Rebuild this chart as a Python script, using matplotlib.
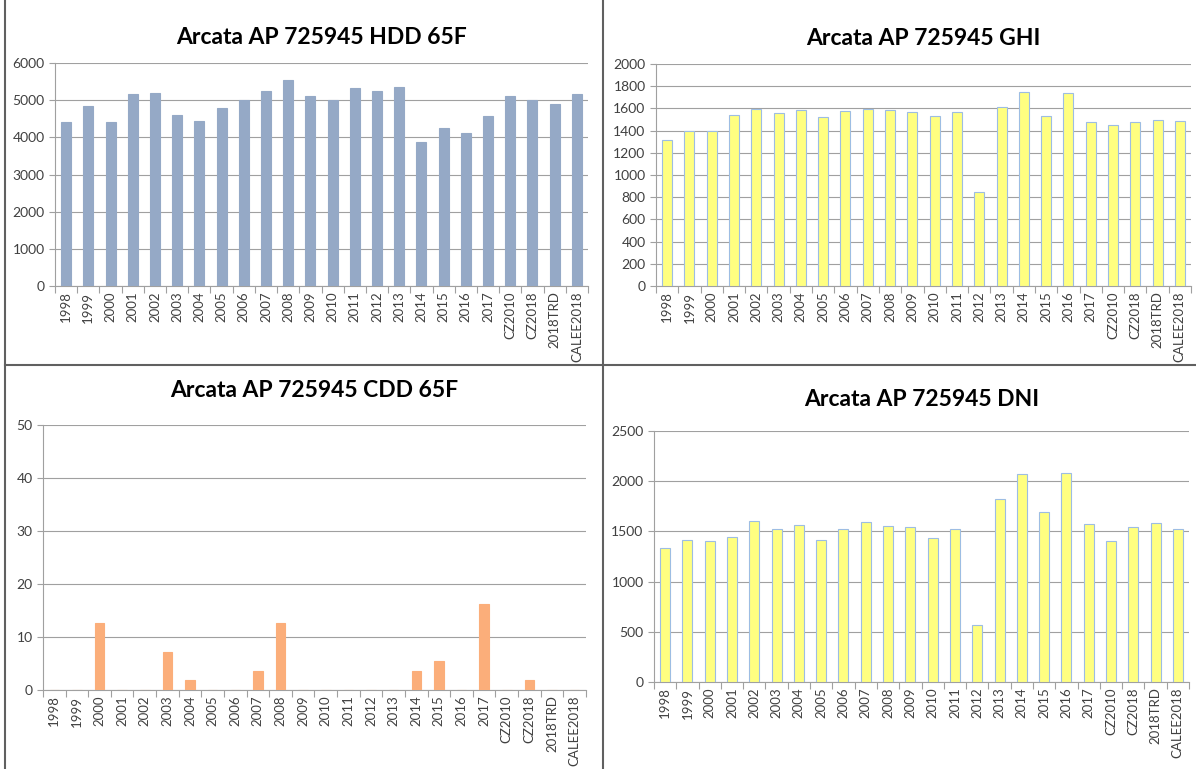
import matplotlib
matplotlib.use("Agg")
import matplotlib.pyplot as plt
from matplotlib.lines import Line2D

plt.rcParams['font.family'] = ['Lato', 'DejaVu Sans']

cats = ['1998', '1999', '2000', '2001', '2002', '2003', '2004', '2005', '2006',
        '2007', '2008', '2009', '2010', '2011', '2012', '2013', '2014', '2015',
        '2016', '2017', 'CZ2010', 'CZ2018', '2018TRD', 'CALEE2018']

hdd = [4400, 4840, 4400, 5160, 5190, 4590, 4450, 4790, 5000, 5240, 5530, 5100,
       5000, 5330, 5240, 5350, 3880, 4250, 4110, 4570, 5120, 5000, 4910, 5170]
ghi = [1314, 1395, 1392, 1540, 1594, 1558, 1582, 1519, 1573, 1594, 1582, 1567,
       1531, 1564, 851, 1615, 1744, 1531, 1738, 1474, 1450, 1477, 1498, 1486]
cdd = [0, 0, 12.6, 0, 0, 7.2, 1.8, 0, 0, 3.6, 12.6, 0,
       0, 0, 0, 0, 3.6, 5.4, 0, 16.2, 0, 1.8, 0, 0]
dni = [1331, 1414, 1408, 1448, 1607, 1524, 1564, 1418, 1527, 1597, 1557, 1544,
       1434, 1524, 568, 1826, 2075, 1690, 2085, 1574, 1408, 1544, 1580, 1524]

W, H = 1196, 769
fig = plt.figure(figsize=(W / 100, H / 100), dpi=100)


def px_axes(x0, y0, x1, y1):
    return fig.add_axes([x0 / W, 1 - y1 / H, (x1 - x0) / W, (y1 - y0) / H])


def panel(ax, vals, title, ymax, step, color, edge, width, tpad):
    x = range(len(cats))
    ax.bar(x, vals, width=width, color=color, edgecolor=edge, linewidth=0.8, zorder=3)
    ax.set_xlim(-0.5, len(cats) - 0.5)
    ax.set_ylim(0, ymax)
    ax.set_yticks(range(0, ymax + 1, step))
    ax.set_xticks(list(x))
    ax.set_xticklabels(cats, rotation=90, fontsize=9.5, color='#404040')
    ax.tick_params(axis='x', length=0, pad=4)
    ax.tick_params(axis='y', labelsize=10, colors='#404040', length=4, width=0.8)
    ax.tick_params(axis='y', color='#a0a0a0')
    ax.set_xticks([i + 0.5 for i in range(-1, len(cats))], minor=True)
    ax.tick_params(axis='x', which='minor', length=5, color='#a0a0a0', width=0.8)
    ax.yaxis.grid(True, color='#a0a0a0', linewidth=0.8, zorder=0)
    for s in ['top', 'right']:
        ax.spines[s].set_visible(False)
    ax.spines['left'].set_color('#a0a0a0')
    ax.spines['bottom'].set_color('#a0a0a0')
    ax.set_title(title, fontsize=16.5, fontweight='bold', pad=tpad)


ax1 = px_axes(55, 63, 588, 286)
panel(ax1, hdd, 'Arcata AP 725945 HDD 65F', 6000, 1000, '#95a9c6', '#95a9c6', 0.45, 14)

ax2 = px_axes(656, 64, 1191, 286)
panel(ax2, ghi, 'Arcata AP 725945 GHI', 2000, 200, '#ffff80', '#9dbde3', 0.45, 14)

ax3 = px_axes(43, 425, 586, 690)
panel(ax3, cdd, 'Arcata AP 725945 CDD 65F', 50, 10, '#fbae7a', '#fbae7a', 0.42, 20)

ax4 = px_axes(654, 431, 1189, 682)
panel(ax4, dni, 'Arcata AP 725945 DNI', 2500, 500, '#ffff80', '#9dbde3', 0.45, 18)

# screenshot frame lines
for (xa, ya, xb, yb) in [(5, 0, 5, 769), (603, 0, 603, 769), (5, 365, 1196, 365)]:
    fig.add_artist(Line2D([xa / W, xb / W], [1 - ya / H, 1 - yb / H],
                          color='#606060', linewidth=1.5))

fig.savefig('out.png', dpi=100, facecolor='white')
